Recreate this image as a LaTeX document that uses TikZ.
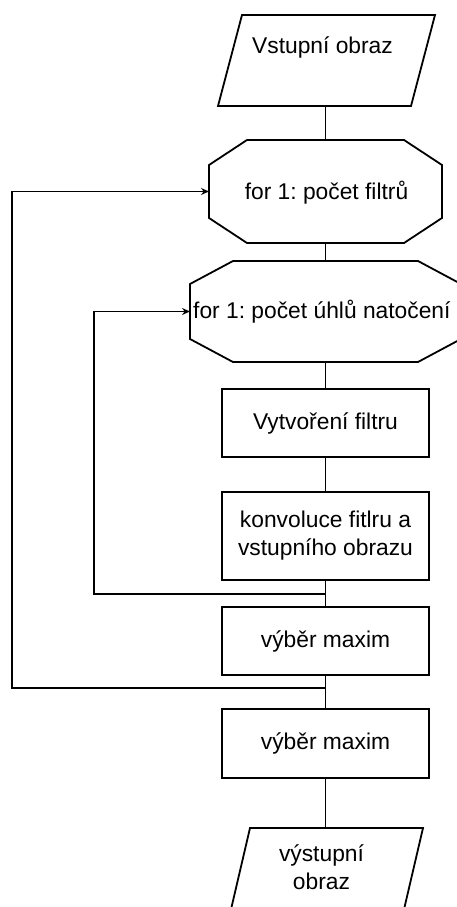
\documentclass[tikz,border=0pt]{standalone}
\usepackage{fontspec}
\setmainfont{Liberation Sans}
\usetikzlibrary{arrows.meta,calc}
\frenchspacing
\newcommand\octopath[3]{%
  \draw[shp] ($(#1.north west)+(#2,0)$) -- ($(#1.north east)+(-#2,0)$) -- ($(#1.north east)+(0,#3)$)
   -- ($(#1.south east)+(0,-#3)$) -- ($(#1.south east)+(-#2,0)$) -- ($(#1.south west)+(#2,0)$)
   -- ($(#1.south west)+(0,-#3)$) -- ($(#1.north west)+(0,#3)$) -- cycle;}
\newcommand\parapath[2]{%
  \draw[shp] ($(#1.north west)+(#2,0)$) -- (#1.north east) -- ($(#1.south east)+(-#2,0)$)
   -- (#1.south west) -- cycle;}
\begin{document}
\begin{tikzpicture}[x=1pt,y=-1pt,
  box/.style={draw=none,inner sep=0pt,outer sep=0pt,rectangle},
  lbl/.style={inner sep=0pt,align=center,font=\fontsize{22.8}{28}\selectfont},
  shp/.style={draw,line width=1.8pt,line join=miter},
  rectbox/.style={draw,line width=1.8pt,rectangle,inner sep=0pt,minimum width=207pt,align=center,font=\fontsize{22.8}{28}\selectfont},
  conn/.style={line width=1.8pt},
  arr/.style={conn,-{Stealth[length=8pt,width=7pt]}}]
\useasboundingbox (0,0) rectangle (457,907);
\clip (0,0) rectangle (457,907);
% input
\node[box,minimum width=217pt,minimum height=91pt] (in) at (326.5,60.5) {};
\parapath{in}{24}
\node[lbl] (tin) at (322.5,47) {Vstupní obraz};
% octagon 1
\node[box,minimum width=233pt,minimum height=103pt] (o1) at (325.5,191.5) {};
\octopath{o1}{38}{25}
\node[lbl] (to1) at (326.5,193) {for 1: počet filtrů};
% octagon 2
\node[box,minimum width=271pt,minimum height=101pt] (o2) at (325.5,311.5) {};
\octopath{o2}{43}{23}
\node[lbl,anchor=west] (to2) at (193,312) {for 1: počet úhlů natočení};
% rectangles
\node[rectbox,minimum height=68pt] (r1) at (325.5,423) {Vytvoření filtru};
\node[rectbox,minimum height=88pt] (r2) at (325.5,536) {konvoluce fitlru a\\vstupního obrazu};
\node[rectbox,minimum height=68pt] (r3) at (325.5,641) {výběr maxim};
\node[rectbox,minimum height=69pt] (r4) at (325.5,743.5) {výběr maxim};
% output
\node[box,minimum width=194pt,minimum height=90pt] (out) at (326,873) {};
\parapath{out}{21}
\node[lbl] (tout) at (321.5,867.5) {výstupní\\obraz};
% connectors
\draw[conn] (o1.north |- in.south) -- (o1.north);
\draw[conn] (o1.south) -- (o2.north);
\draw[conn] (o2.south) -- (r1.north);
\draw[conn] (r1.south) -- (r2.north);
\draw[conn] (r2.south) -- (r3.north);
\draw[conn] (r3.south) -- (r4.north);
\draw[conn] (r4.south) -- (r4.south |- out.north);
% loops
\coordinate (j2) at (325.5,594);
\coordinate (l2) at (94,594);
\draw[arr] (j2) -- (l2) |- (o2.west);
\coordinate (j1) at (325.5,688);
\coordinate (l1) at (12,688);
\draw[arr] (j1) -- (l1) |- (o1.west);
\end{tikzpicture}
\end{document}
